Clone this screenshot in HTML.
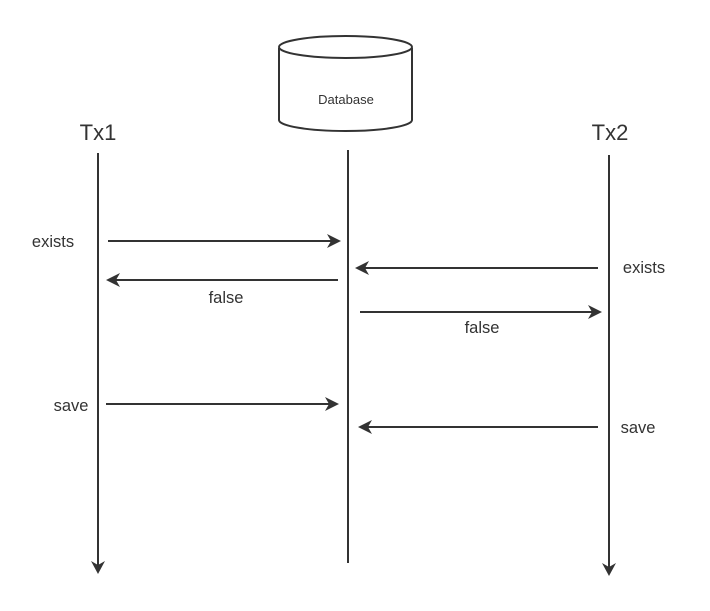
<!DOCTYPE html>
<html><head><meta charset="utf-8"><style>
html,body{margin:0;padding:0;background:#fff;}
svg{display:block;}
text{font-family:"Liberation Sans",sans-serif;fill:#333;}
</style></head><body>
<svg width="710" height="611" viewBox="0 0 710 611" xmlns="http://www.w3.org/2000/svg">
<g stroke="#333" stroke-width="2" fill="none">
<path d="M279,48 L279,120 A66.5,11 0 0 0 412,120 L412,48" fill="#fff"/>
<ellipse cx="345.5" cy="47" rx="66.5" ry="11" fill="#fff"/>
<line x1="98" y1="153" x2="98" y2="566"/>
<line x1="348" y1="150" x2="348" y2="563"/>
<line x1="609" y1="155" x2="609" y2="568"/>
<line x1="108" y1="241" x2="333" y2="241"/>
<line x1="338" y1="280" x2="114" y2="280"/>
<line x1="598" y1="268" x2="363" y2="268"/>
<line x1="360" y1="312" x2="594" y2="312"/>
<line x1="106" y1="404" x2="331" y2="404"/>
<line x1="598" y1="427" x2="366" y2="427"/>
</g>
<g fill="#333">
<path d="M91,561 L98,574 L105,561 L98,565 Z"/>
<path d="M602,563 L609,576 L616,563 L609,567 Z"/>
<path d="M327,234 L341,241 L327,248 L331,241 Z"/>
<path d="M120,273 L106,280 L120,287 L116,280 Z"/>
<path d="M369,261 L355,268 L369,275 L365,268 Z"/>
<path d="M588,305 L602,312 L588,319 L592,312 Z"/>
<path d="M325,397 L339,404 L325,411 L329,404 Z"/>
<path d="M372,420 L358,427 L372,434 L368,427 Z"/>
</g>
<text x="346" y="104" font-size="13" text-anchor="middle">Database</text>
<text x="98" y="140" font-size="22" text-anchor="middle">Tx1</text>
<text x="610" y="140" font-size="22" text-anchor="middle">Tx2</text>
<text x="53" y="247" font-size="16.5" text-anchor="middle">exists</text>
<text x="226" y="303" font-size="16.5" text-anchor="middle">false</text>
<text x="644" y="273" font-size="16.5" text-anchor="middle">exists</text>
<text x="482" y="333" font-size="16.5" text-anchor="middle">false</text>
<text x="71" y="411" font-size="16.5" text-anchor="middle">save</text>
<text x="638" y="433" font-size="16.5" text-anchor="middle">save</text>
</svg>
</body></html>
